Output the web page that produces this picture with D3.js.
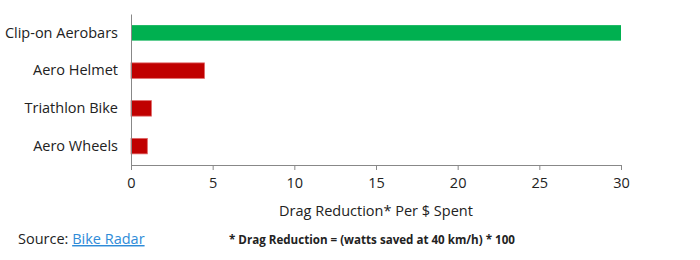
<!DOCTYPE html>
<html>
<head>
<meta charset="utf-8">
<script src="https://cdn.jsdelivr.net/npm/d3@7"></script>
<style>
  body { margin: 0; background: #fff; }
  svg text { font-family: "Open Sans", "Noto Sans", sans-serif; fill: #222; }
</style>
</head>
<body>
<div id="chart"></div>
<script>
// data
const categories = ["Clip-on Aerobars", "Aero Helmet", "Triathlon Bike", "Aero Wheels"];
const values = [30, 4.5, 1.25, 1.0];
const barColors = ["#00B050", "#C00000", "#C00000", "#C00000"];
const xTicks = [0, 5, 10, 15, 20, 25, 30];
const axisTitle = "Drag Reduction* Per $ Spent";
const footnote = "* Drag Reduction = (watts saved at 40 km/h) * 100";

const width = 700, height = 260;
const margin = { top: 14, left: 131, right: 79, bottom: 95 };
const plotW = width - margin.left - margin.right;
const plotH = height - margin.top - margin.bottom;

const svg = d3.select("#chart").append("svg")
  .attr("width", width)
  .attr("height", height);

const g = svg.append("g")
  .attr("transform", `translate(${margin.left},${margin.top})`);

const x = d3.scaleLinear().domain([0, 30]).range([0, plotW]);
const y = d3.scaleBand().domain(categories).range([0, plotH]).paddingInner(0.59).paddingOuter(0.295);

// bars
g.selectAll("rect.bar")
  .data(categories)
  .enter()
  .append("rect")
  .attr("class", "bar")
  .attr("x", x(0))
  .attr("y", d => y(d))
  .attr("width", (d, i) => x(values[i]) - x(0))
  .attr("height", y.bandwidth())
  .attr("fill", (d, i) => barColors[i])
  .attr("stroke", (d, i) => i === 0 ? "none" : "#E06666")
  .attr("stroke-width", 0.8);

// x axis
const xAxis = g.append("g")
  .attr("transform", `translate(0,${plotH})`)
  .call(d3.axisBottom(x).tickValues(xTicks).tickSize(5).tickPadding(8));
xAxis.select(".domain").attr("stroke", "#888");
xAxis.selectAll(".tick line").attr("stroke", "#888");
xAxis.selectAll("text").style("font-size", "14.5px").style("fill", "#222");

// y axis
const yAxis = g.append("g")
  .call(d3.axisLeft(y).tickSize(0).tickPadding(13));
yAxis.select(".domain").attr("stroke", "#888");
yAxis.selectAll("text").style("font-size", "14.5px").style("fill", "#222");

// axis title
g.append("text")
  .attr("x", plotW / 2)
  .attr("y", plotH + 51)
  .attr("text-anchor", "middle")
  .style("font-size", "14.5px")
  .text(axisTitle);

// source
const src = svg.append("text")
  .attr("x", 18)
  .attr("y", 244)
  .style("font-size", "14.5px");
src.append("tspan").text("Source: ");
src.append("tspan")
  .style("fill", "#2E8BD8")
  .attr("text-decoration", "underline")
  .text("Bike Radar");

// footnote
svg.append("text")
  .attr("x", 229)
  .attr("y", 244)
  .style("font-size", "11.6px")
  .style("font-weight", "bold")
  .text(footnote);
</script>
</body>
</html>
